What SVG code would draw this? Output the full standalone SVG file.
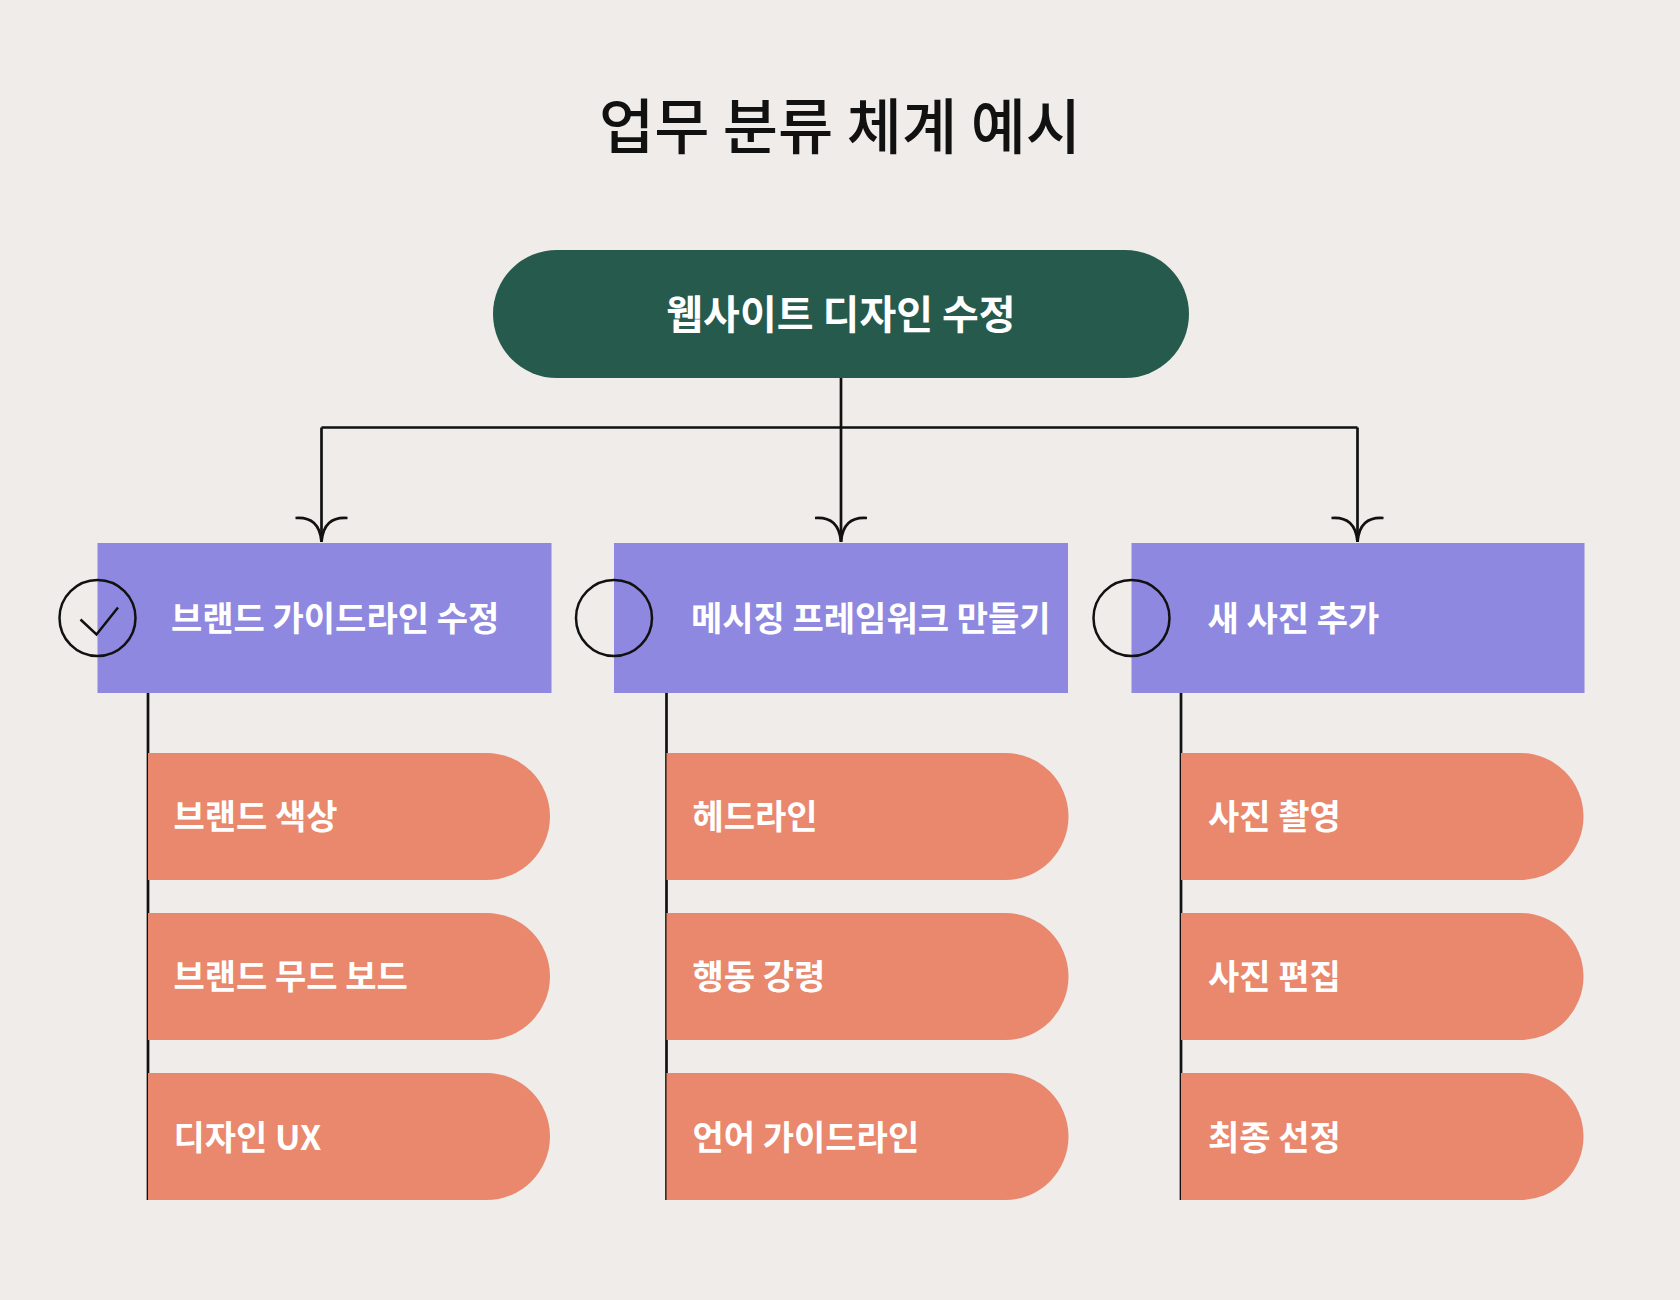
<svg xmlns="http://www.w3.org/2000/svg" width="1680" height="1300" viewBox="0 0 1680 1300">
<defs>
<style>
.bg{fill:#efecea}
.title{font-family:"Noto Sans CJK KR","Noto Sans",sans-serif;font-weight:500;font-size:60px;fill:#111}
.lbl{font-family:"Noto Sans CJK KR","Noto Sans",sans-serif;font-weight:700;fill:#fff}
.root{fill:#255a4d}
.cat{fill:#8f88e0}
.task{fill:#e9886d}
.line{fill:none;stroke:#111;stroke-width:2.7}
.circ{fill:none;stroke:#111;stroke-width:2.5}
</style>
<marker id="arr" viewBox="-30 -30 60 34" markerWidth="60" markerHeight="34" refX="0" refY="0" markerUnits="userSpaceOnUse" orient="0">
<path d="M-26,-24 Q-2,-26 0,0 M26,-24 Q2,-26 0,0" fill="none" stroke="#111" stroke-width="2.7"/>
</marker>
</defs>
<rect class="bg" x="0" y="0" width="1680" height="1300"/>
<text class="title" x="840" y="149" text-anchor="middle">업무 분류 체계 예시</text>

<g id="connectors">
<path class="line" d="M841,378 V427.5"/>
<path class="line" d="M321.5,427.5 H1357.5"/>
<path class="line" d="M321.5,427.5 V542" marker-end="url(#arr)"/>
<path class="line" d="M841,427.5 V542" marker-end="url(#arr)"/>
<path class="line" d="M1357.5,427.5 V542" marker-end="url(#arr)"/>
<path class="line" d="M148,693 V1200"/>
<path class="line" d="M666.5,693 V1200"/>
<path class="line" d="M1181,693 V1200"/>
</g>

<g id="root">
<rect class="root" x="493" y="250" width="696" height="128" rx="64"/>
<text class="lbl" x="841" y="329" font-size="40" text-anchor="middle">웹사이트 디자인 수정</text>
</g>

<g id="cat1">
<rect class="cat" x="97.5" y="543" width="454" height="150"/>
<circle class="circ" cx="97.5" cy="618" r="38"/>
<path class="circ" d="M80.5,619.5 L96.5,634.5 L118,607.5"/>
<text class="lbl" x="171" y="631" font-size="34">브랜드 가이드라인 수정</text>
</g>
<g id="cat2">
<rect class="cat" x="614" y="543" width="454" height="150"/>
<circle class="circ" cx="614" cy="618" r="38"/>
<text class="lbl" x="691" y="631" font-size="34">메시징 프레임워크 만들기</text>
</g>
<g id="cat3">
<rect class="cat" x="1131.5" y="543" width="453" height="150"/>
<circle class="circ" cx="1131.5" cy="618" r="38"/>
<text class="lbl" x="1207.5" y="631" font-size="34">새 사진 추가</text>
</g>

<g id="t1a"><path class="task" d="M148,753 H486.5 A63.5,63.5 0 0 1 486.5,880 H148 Z"/><text class="lbl" x="173.5" y="829" font-size="34">브랜드 색상</text></g>
<g id="t1b"><path class="task" d="M148,913 H486.5 A63.5,63.5 0 0 1 486.5,1040 H148 Z"/><text class="lbl" x="173.5" y="989" font-size="34">브랜드 무드 보드</text></g>
<g id="t1c"><path class="task" d="M148,1073 H486.5 A63.5,63.5 0 0 1 486.5,1200 H148 Z"/><text class="lbl" x="173.5" y="1150" font-size="34">디자인 UX</text></g>

<g id="t2a"><path class="task" d="M666.5,753 H1005 A63.5,63.5 0 0 1 1005,880 H666.5 Z"/><text class="lbl" x="692.5" y="829" font-size="34">헤드라인</text></g>
<g id="t2b"><path class="task" d="M666.5,913 H1005 A63.5,63.5 0 0 1 1005,1040 H666.5 Z"/><text class="lbl" x="692.5" y="989" font-size="34">행동 강령</text></g>
<g id="t2c"><path class="task" d="M666.5,1073 H1005 A63.5,63.5 0 0 1 1005,1200 H666.5 Z"/><text class="lbl" x="692.5" y="1150" font-size="34">언어 가이드라인</text></g>

<g id="t3a"><path class="task" d="M1181,753 H1520 A63.5,63.5 0 0 1 1520,880 H1181 Z"/><text class="lbl" x="1208" y="829" font-size="34">사진 촬영</text></g>
<g id="t3b"><path class="task" d="M1181,913 H1520 A63.5,63.5 0 0 1 1520,1040 H1181 Z"/><text class="lbl" x="1208" y="989" font-size="34">사진 편집</text></g>
<g id="t3c"><path class="task" d="M1181,1073 H1520 A63.5,63.5 0 0 1 1520,1200 H1181 Z"/><text class="lbl" x="1208" y="1150" font-size="34">최종 선정</text></g>
</svg>
